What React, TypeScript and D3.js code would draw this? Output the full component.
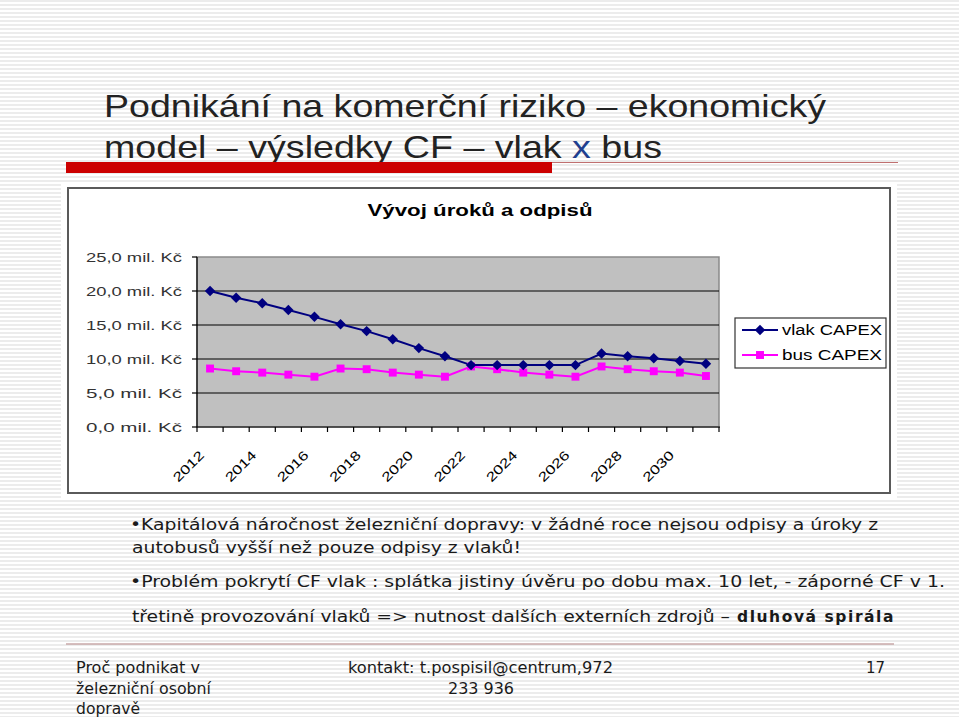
import React from "react";
import * as d3 from "d3";

const years = [2012,2013,2014,2015,2016,2017,2018,2019,2020,2021,2022,2023,2024,2025,2026,2027,2028,2029,2030,2031];
const vlakCapex = [20.0,19.0,18.2,17.2,16.2,15.1,14.1,12.9,11.6,10.4,9.1,9.1,9.1,9.1,9.1,10.8,10.4,10.1,9.7,9.3];
const busCapex = [8.6,8.2,8.0,7.7,7.4,8.6,8.5,8.0,7.7,7.4,8.9,8.5,8.0,7.7,7.4,8.9,8.5,8.2,8.0,7.5];
const yTicks = [0,5,10,15,20,25];
const seriesNames = ["vlak CAPEX","bus CAPEX"];

const W = 959, H = 717;

export default function App() {
  const x = d3.scaleBand<number>().domain(years).range([197, 719]).padding(0);
  const y = d3.scaleLinear().domain([0, 25]).range([427, 257]);
  const cx = (yr: number) => (x(yr) as number) + x.bandwidth() / 2;
  const lineGen = d3.line<number>().x((_, i) => cx(years[i])).y((v) => y(v));
  const fmt = (v: number) => `${d3.format(".1f")(v).replace(".", ",")} mil. Kč`;
  const diamond = d3.symbol().type(d3.symbolDiamond2).size(70)() as string;
  const square = d3.symbol().type(d3.symbolSquare2).size(80)() as string;
  const bulletFont = "Tahoma, 'DejaVu Sans Condensed', 'DejaVu Sans', sans-serif";
  const arial = "'Liberation Sans', Arial, sans-serif";
  const boundaries = d3.range(years.length + 1).map((i) => 197 + i * x.bandwidth());

  return (
    <svg width={W} height={H} style={{ position: "absolute", left: 0, top: 0 }} xmlns="http://www.w3.org/2000/svg">
      <defs>
        <pattern id="stripes" width="8" height="4" patternUnits="userSpaceOnUse">
          <rect width="8" height="4" fill="#ffffff" />
          <rect y="0" width="8" height="2" fill="#ececec" />
        </pattern>
      </defs>
      <rect width={W} height={H} fill="url(#stripes)" />

      {/* Slide title */}
      <text x={104} y={117} fontFamily={arial} fontSize={32} fill="#222" textLength={722} lengthAdjust="spacingAndGlyphs">
        Podnikání na komerční riziko – ekonomický
      </text>
      <text x={104} y={158} fontFamily={arial} fontSize={32} fill="#222" textLength={558} lengthAdjust="spacingAndGlyphs">
        model – výsledky CF – vlak <tspan fill="#1f3f8f">x</tspan> bus
      </text>
      <rect x={66} y={162} width={486} height={11} fill="#cc0000" />
      <line x1={552} y1={162.5} x2={898} y2={162.5} stroke="#c07070" strokeWidth={1.2} />

      {/* Chart frame */}
      <rect x={61} y={182} width={836} height={316} fill="#ffffff" />
      <rect x={68} y={188} width={822} height={305} fill="#ffffff" stroke="#5a5a5a" strokeWidth={2} />
      <text x={480} y={216} textAnchor="middle" fontFamily={arial} fontWeight="bold" fontSize={17} fill="#000" textLength={225} lengthAdjust="spacingAndGlyphs">
        Vývoj úroků a odpisů
      </text>

      {/* Plot area */}
      <rect x={197} y={257} width={522} height={170} fill="#c0c0c0" stroke="#8a8a8a" strokeWidth={1.5} />
      {yTicks.filter((t) => t > 0 && t < 25).map((t) => (
        <line key={t} x1={197} x2={719} y1={y(t)} y2={y(t)} stroke="#000" strokeWidth={1.2} />
      ))}
      <line x1={197} x2={197} y1={257} y2={427} stroke="#000" strokeWidth={1.2} />
      <line x1={197} x2={720} y1={427} y2={427} stroke="#000" strokeWidth={1.2} />
      {yTicks.map((t) => (
        <g key={t}>
          <line x1={192} x2={197} y1={y(t)} y2={y(t)} stroke="#000" strokeWidth={1.2} />
          <text x={182} y={y(t) + 4.5} textAnchor="end" fontFamily={arial} fontSize={13} fill="#333" textLength={96} lengthAdjust="spacingAndGlyphs">
            {fmt(t)}
          </text>
        </g>
      ))}
      {boundaries.map((bx, i) => (
        <line key={i} x1={bx} x2={bx} y1={427} y2={432} stroke="#000" strokeWidth={1.2} />
      ))}
      {years.filter((_, i) => i % 2 === 0).map((yr) => (
        <text key={yr} transform={`translate(${cx(yr) - 5},${456}) rotate(-45)`} textAnchor="end" fontFamily={arial} fontSize={13} fill="#000" textLength={38} lengthAdjust="spacingAndGlyphs">
          {yr}
        </text>
      ))}

      {/* Series */}
      <path d={lineGen(busCapex) as string} fill="none" stroke="#ff00ff" strokeWidth={2} />
      <path d={lineGen(vlakCapex) as string} fill="none" stroke="#000080" strokeWidth={2} />
      {busCapex.map((v, i) => (
        <path key={"b" + i} d={square} transform={`translate(${cx(years[i])},${y(v)})`} fill="#ff00ff" />
      ))}
      {vlakCapex.map((v, i) => (
        <path key={"v" + i} d={diamond} transform={`translate(${cx(years[i])},${y(v)})`} fill="#000080" />
      ))}

      {/* Legend */}
      <rect x={735} y={318} width={151} height={50} fill="#ffffff" stroke="#333" strokeWidth={1.2} />
      {seriesNames.map((name, i) => {
        const ly = 330 + i * 25;
        const color = i === 0 ? "#000080" : "#ff00ff";
        return (
          <g key={name}>
            <line x1={742} x2={778} y1={ly} y2={ly} stroke={color} strokeWidth={2} />
            <path d={i === 0 ? diamond : square} transform={`translate(760,${ly})`} fill={color} />
            <text x={782} y={ly + 5} fontFamily={arial} fontSize={14} fill="#000" textLength={100} lengthAdjust="spacingAndGlyphs">
              {name}
            </text>
          </g>
        );
      })}

      {/* Bullet text */}
      <g fontFamily={bulletFont} fontSize={16.5} fill="#1a1a1a">
        <text x={130} y={530} textLength={748} lengthAdjust="spacingAndGlyphs">•Kapitálová náročnost železniční dopravy: v žádné roce nejsou odpisy a úroky z</text>
        <text x={132} y={553} textLength={389} lengthAdjust="spacingAndGlyphs">autobusů vyšší než pouze odpisy z vlaků!</text>
        <text x={130} y={587} textLength={815} lengthAdjust="spacingAndGlyphs">•Problém pokrytí CF vlak : splátka jistiny úvěru po dobu max. 10 let, - záporné CF v 1.</text>
        <text x={132} y={622} textLength={598} lengthAdjust="spacingAndGlyphs">třetině provozování vlaků =&gt; nutnost dalších externích zdrojů –</text>
        <text x={737} y={622} fontWeight="bold" letterSpacing={1.5} textLength={158} lengthAdjust="spacingAndGlyphs">dluhová spirála</text>
      </g>

      {/* Footer */}
      <line x1={66} y1={644} x2={894} y2={644} stroke="#c8a8a8" strokeWidth={1.5} />
      <g fontFamily={bulletFont} fontSize={16} fill="#1a1a1a">
        <text x={76} y={673} textLength={124} lengthAdjust="spacingAndGlyphs">Proč podnikat v</text>
        <text x={76} y={694} textLength={135} lengthAdjust="spacingAndGlyphs">železniční osobní</text>
        <text x={76} y={714} textLength={64} lengthAdjust="spacingAndGlyphs">dopravě</text>
        <text x={348} y={673} textLength={265} lengthAdjust="spacingAndGlyphs">kontakt: t.pospisil@centrum,972</text>
        <text x={448} y={694} textLength={66} lengthAdjust="spacingAndGlyphs">233 936</text>
        <text x={866} y={673} textLength={19} lengthAdjust="spacingAndGlyphs">17</text>
      </g>
    </svg>
  );
}
